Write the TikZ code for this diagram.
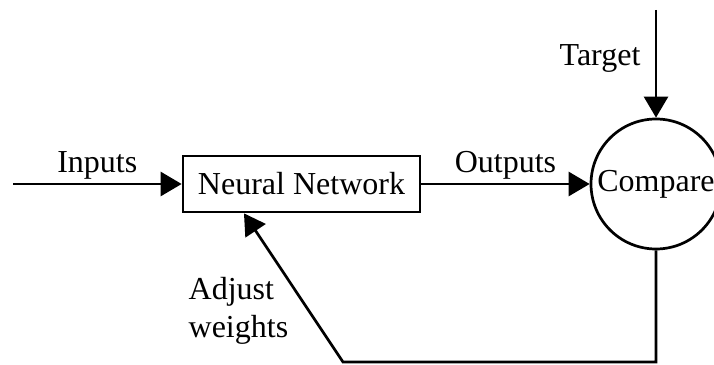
\documentclass[tikz,border=0pt]{standalone}
\usepackage{fontspec}
\setmainfont{Liberation Serif}
\usetikzlibrary{arrows.meta,positioning,calc}

\begin{document}
\begin{tikzpicture}[
    x=1pt,y=1pt,
    line width=2.7pt,
    every node/.style={font=\fontsize{32}{38}\selectfont},
    box/.style={draw,minimum width=237pt,minimum height=56pt,inner sep=0pt},
    cmpnode/.style={draw,circle,minimum size=130pt,inner sep=0pt},
    flow/.style={-{Triangle[length=21pt,width=24pt]}},
  ]
    \useasboundingbox (0,0) rectangle (714,364);

    \node[box]     (nn)  at (301.5,180) {Neural Network};
    \node[cmpnode] (cmp) at (656,180)   {Compare};

    \coordinate (in)  at (13,180);
    \coordinate (tgt) at (656,354);
    \coordinate (fb1) at (656,2);
    \coordinate (fb2) at (343,2);

    \draw[flow] (in)  -- node[above] {Inputs} (nn);
    \draw[flow] (nn)  -- node[above] {Outputs} (cmp);
    \draw[flow] (tgt) -- (cmp);
    \node at (600,306) {Target};

    % feedback path back into the network
    \draw[flow] (cmp.south) -- (fb1) -- (fb2)
      -- ($(nn.south west)!0.26!(nn.south east)$);
    \node[anchor=west,align=left] at (184,53) {Adjust\\weights};
  \end{tikzpicture}
\end{document}
